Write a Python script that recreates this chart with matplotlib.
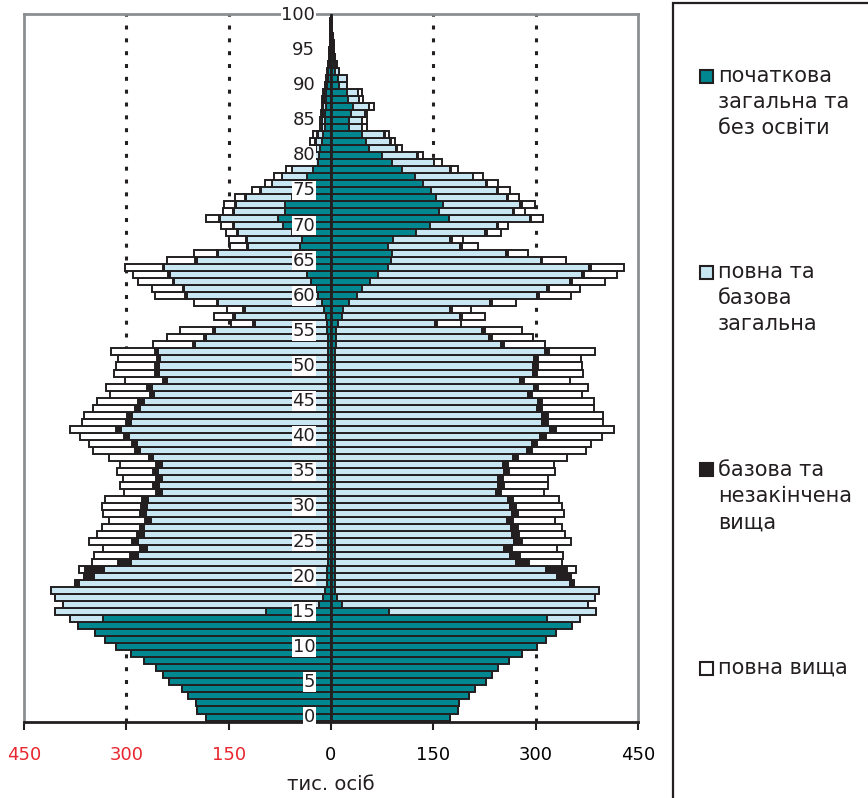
import matplotlib
matplotlib.use('Agg')
import numpy as np
import matplotlib.pyplot as plt
from matplotlib.patches import Rectangle

plt.rcParams['font.family'] = ['DejaVu Sans']

# вік 0..100
ages = list(range(101))

# ліва половина (червоні підписи), тис. осіб
left_basic = [183.5, 196.7, 198.2, 208.9, 218.7, 237.2, 246.5, 256.8, 273.4, 293.4,
              315.4, 331, 345.6, 371, 334.4, 95.1, 17.5, 11, 8.8, 6,
              6, 6, 5, 5, 5, 5, 5, 5, 5, 5,
              5, 5, 5, 5, 5, 5, 5, 5, 5, 5,
              5, 5, 5, 5, 5, 5, 5, 5, 5, 5,
              5, 5, 5, 5, 5, 6, 6.3, 7.7, 9.7, 13.6,
              18.5, 21.9, 29.7, 34.6, 33, 33, 40.5, 45, 42, 57.6,
              69.8, 77.1, 67.4, 67, 57.6, 50, 40, 35.6, 26.8, 19,
              18, 16, 13, 11, 9, 9, 8.5, 8, 7.5, 7,
              6, 4.5, 4, 3, 2.5, 2, 1.5, 1.2, 1, 0.7, 0.5]
left_general = [0] * 14 + [48.8, 310.1, 375.5, 393.2, 401.3, 364,
              342, 327.4, 288.4, 277.2, 264, 277.2, 268.9, 268.9, 259.1, 265.9,
              265, 263.5, 243, 246.4, 243, 247.9, 243, 255.2, 275, 279.6,
              291.3, 303, 288.4, 286.4, 274.7, 268.9, 254.2, 257.6, 234.7, 246.4,
              246.4, 245.3, 248.7, 194.5, 178, 163.3, 105.4, 133.3, 116.6, 151.8,
              193.3, 193.3, 200.2, 201.6, 211.5, 164.1, 125.5, 77, 81.5, 79.1,
              72.7, 85, 74.2, 72.5, 67.4, 53, 46, 36, 30.2, 4,
              5, 6, 9, 8, 4, 4, 3.5, 3, 3, 2.5,
              2, 1.5, 1, 1, 0.8, 0.5, 0.4, 0.3, 0.2, 0.2, 0.1]
left_incompl = [0] * 19 + [5,
              14.7, 26.9, 18.1, 12.2, 11.7, 9.7, 10.7, 6.8, 8.3, 9.8,
              8.7, 8.8, 8.3, 8.8, 8.3, 8.3, 8.3, 7.3, 7, 7.3,
              7.8, 6.9, 6.8, 6.9, 7.3, 8.3, 6.8, 7.4, 6.8, 6.3,
              6.3, 5, 4, 3, 3, 3, 2, 2, 2, 2,
              2, 2, 2, 2, 2, 2, 1.5, 1.5, 1.5, 1.5,
              1.5, 1.5, 1.5, 1.5, 1, 1, 0.9, 0.6, 0.5, 0.3,
              0.3, 0.5, 1, 1, 0.5, 0.5, 0.5, 0.5, 0.5, 0.3,
              0.3, 0, 0, 0, 0, 0, 0, 0, 0, 0, 0]
left_higher = [0] * 21 + [9.7, 39, 52.7, 53.7, 63.5, 58.6, 55.2, 53.7, 53.7,
              57.2, 53.7, 47.8, 49.8, 48.8, 52.7, 53.7, 58.6, 62, 63.5,
              64.5, 68.3, 65, 64.4, 62, 61, 57.7, 59.5, 55.2, 61.1,
              57.2, 57.6, 65, 58.7, 53.7, 48.8, 33.2, 27.8, 24.5, 33.2,
              44.9, 45.4, 50.3, 52.3, 55.2, 40.6, 33.2, 24.5, 24.4, 16.1,
              17.6, 19.5, 15.6, 16, 14.6, 12.2, 9.8, 11.2, 8.3, 1.5,
              1, 2, 8, 7, 2, 2.5, 2, 2, 1.5, 1.5,
              1, 1, 0.5, 0.5, 0.3, 0, 0, 0, 0, 0, 0]

# права половина
right_basic = [174.3, 185.6, 188, 202.2, 211, 226.6, 235.4, 244.1, 260.8, 279.3,
               301.3, 315.4, 329.6, 353.5, 315.9, 85.5, 15.6, 8.3, 5.9, 6,
               6, 6, 6, 6, 6, 6, 6, 6, 6, 6,
               6, 6, 6, 6, 6, 6, 6, 6, 6, 6,
               6, 6, 6, 6, 6, 6, 6, 6, 6, 6,
               6, 6, 6, 7, 7, 8, 9.8, 16.6, 18.1, 26.4,
               37.6, 45.9, 57.1, 69.3, 84, 87.9, 88.9, 83, 91.3, 124,
               145, 172.9, 158.2, 164.6, 153.8, 146.5, 135.3, 123, 104.5, 88.9,
               74.2, 56.2, 50.8, 44.9, 26.9, 26.4, 29.3, 32.7, 24.4, 22.9,
               11.7, 10.7, 6, 5, 4, 3.5, 3, 2, 1.5, 1, 0.7]
right_general = [0] * 14 + [48.9, 302.7, 361.4, 378.4, 386.7, 344.1,
               325.6, 309, 265, 256.2, 247.9, 262.1, 258.7, 257.2, 251.3, 259.6,
               256.2, 253.8, 235.2, 239.1, 238.2, 247.9, 246.4, 261.1, 280.6, 288,
               300.7, 314.8, 303.6, 303.6, 295.8, 296.8, 283.1, 291.9, 270.9, 290.4,
               290.4, 291, 308.4, 242.9, 224.4, 213.6, 142, 171.8, 156.6, 206,
               264.1, 270.5, 292.5, 298.8, 293.9, 219.2, 167.9, 106.4, 83.5, 102,
               98.1, 118.1, 108.4, 112.7, 103.5, 97.1, 91.2, 84.5, 70.3, 61.5,
               51.8, 39.2, 36.3, 33.4, 18.5, 19, 20, 22.5, 16.6, 16.6,
               11.2, 12.2, 5, 3, 2.5, 1.5, 1, 0.8, 0.5, 0.4, 0.3]
right_incompl = [0] * 19 + [6.4,
               20, 31.2, 19.5, 14.7, 11.7, 11.2, 11.2, 10.3, 9.8, 8.8,
               8.3, 7.3, 7.8, 8.3, 8.3, 7.3, 7.4, 7.3, 8.3, 7.8,
               7.8, 8.3, 7.8, 7.8, 6.8, 6.8, 5.8, 5.8, 6.3, 5.9,
               6.4, 6, 5, 4, 4, 4, 3, 3, 3, 3,
               3, 3, 3, 3, 3, 2.5, 2, 2, 2, 2,
               2, 2, 2, 2, 1.5, 1.5, 1.5, 1, 1, 1,
               1, 0.8, 0.8, 0.8, 0.5, 0.5, 0.5, 0.5, 0.5, 0.5,
               0, 0, 0, 0, 0, 0, 0, 0, 0, 0, 0]
right_higher = [0] * 21 + [12.2, 48.4, 63.4, 66, 71.8, 66.9, 65.4, 61, 67.4,
               67.4, 67.4, 63.5, 65, 64.9, 66.9, 66.9, 71.8, 78.2, 80,
               82, 85, 81.5, 82, 77.1, 75.7, 72.3, 73.2, 66.9, 67.3,
               64.4, 63, 67.3, 59.6, 61, 54.7, 35.6, 34.2, 26.9, 35.1,
               46.9, 45.4, 48.8, 47.4, 48.8, 34.2, 29.3, 23.5, 17.1, 21,
               14.7, 18.1, 15.6, 19.5, 16.6, 17.1, 16.2, 14.6, 10.7, 10.7,
               8.3, 8.3, 5.9, 5.9, 6.4, 6.4, 2.5, 7.8, 4.9, 5.9,
               1, 1, 0.7, 0.5, 0, 0, 0, 0, 0, 0, 0]

labels = [['початкова', 'загальна та', 'без освіти'],
          ['повна та', 'базова', 'загальна'],
          ['базова та', 'незакінчена', 'вища'],
          ['повна вища']]
colors = ['#00878f', '#c8e7f3', '#231f20', '#ffffff']

xticks = [-450, -300, -150, 0, 150, 300, 450]
xticklabels = ['450', '300', '150', '0', '150', '300', '450']
ytick_ages = list(range(0, 101, 5))

W, H = 868, 798
fig = plt.figure(figsize=(W / 100, H / 100), dpi=100)
ax = fig.add_axes([24 / W, 1 - 722 / H, (638 - 24) / W, (722 - 14) / H])

edge = '#231f20'
y = np.array(ages)
left_series = [left_basic, left_general, left_incompl, left_higher]
right_series = [right_basic, right_general, right_incompl, right_higher]

cum = np.zeros(101)
for vals, c in zip(left_series, colors):
    v = np.array(vals, dtype=float)
    ax.barh(y, -v, left=-cum, height=1.0, color=c, edgecolor=edge, linewidth=1.4, zorder=2)
    cum += v
cum = np.zeros(101)
for vals, c in zip(right_series, colors):
    v = np.array(vals, dtype=float)
    ax.barh(y, v, left=cum, height=1.0, color=c, edgecolor=edge, linewidth=1.4, zorder=2)
    cum += v

# пунктирні лінії
for xv in [-300, -150, 150, 300]:
    ax.axvline(xv, color=edge, lw=2.2, linestyle=(0, (1.3, 2.9)), zorder=0)
ax.axvline(0, color=edge, lw=2, zorder=3)

ax.set_xlim(-450, 450)
ax.set_ylim(-0.71, 100.14)

# підписи віку
for a in ytick_ages:
    ax.text(-23, a, str(a), ha='right', va='center', fontsize=13, color='#231f20',
            bbox=dict(facecolor='white', edgecolor='none', pad=0.5), zorder=5)
ax.set_yticks([])

ax.set_xticks(xticks)
ax.set_xticklabels(xticklabels, fontsize=13)
for lbl in ax.get_xticklabels()[:3]:
    lbl.set_color('#e8262d')
ax.tick_params(axis='x', direction='out', length=6, width=1.5, color=edge, pad=11)

for s in ['left', 'top', 'right']:
    ax.spines[s].set_color('#8c8f92')
    ax.spines[s].set_linewidth(2)
ax.spines['bottom'].set_color(edge)
ax.spines['bottom'].set_linewidth(2)

fig.text(331 / W, 1 - 785 / H, 'тис. осіб', ha='center', va='center', fontsize=14, color=edge)

# легенда
fig.patches.append(Rectangle((673 / W, -0.01), 0.3, 1 - 3 / H + 0.01, transform=fig.transFigure,
                             facecolor='white', edgecolor=edge, linewidth=1.6, zorder=0))
leg_y = [76, 272, 470, 668]
for lines, c, yy in zip(labels, colors, leg_y):
    fig.patches.append(Rectangle((700 / W, 1 - (yy + 6.5) / H), 13 / W, 13 / H,
                                 transform=fig.transFigure, facecolor=c, edgecolor=edge,
                                 linewidth=1.5, zorder=3))
    for i, line in enumerate(lines):
        fig.text(718 / W, 1 - (yy + 5.5 + 26.5 * i) / H, line, ha='left', va='baseline',
                 fontsize=15, color=edge)

fig.savefig('out.png', dpi=100)
